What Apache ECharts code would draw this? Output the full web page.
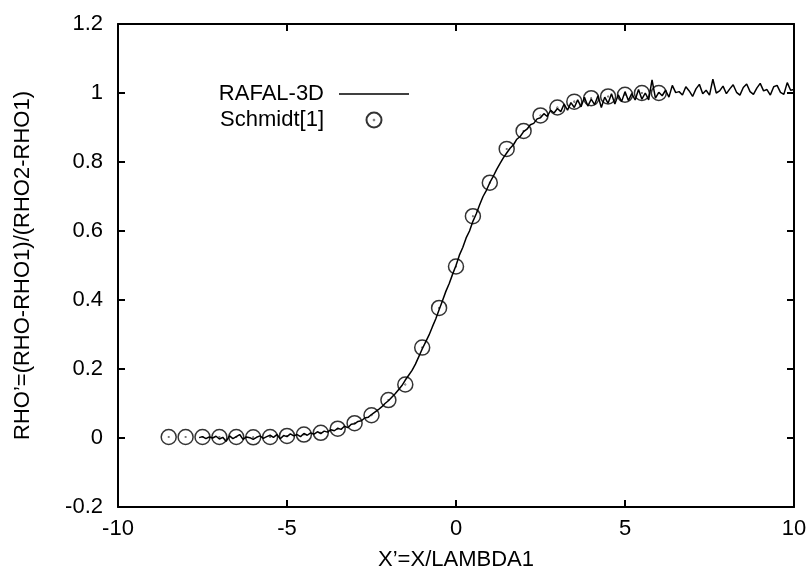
<!DOCTYPE html>
<html>
<head>
<meta charset="utf-8">
<script src="https://cdn.jsdelivr.net/npm/echarts@6/dist/echarts.min.js"></script>
<style>html,body{margin:0;padding:0;background:#fff;}#c{width:811px;height:576px;}</style>
</head>
<body>
<div id="c"></div>
<script>
// Schmidt[1] reference points
const schmidtX = [-8.5,-8,-7.5,-7,-6.5,-6,-5.5,-5,-4.5,-4,-3.5,-3,-2.5,-2,-1.5,-1,-0.5,0,0.5,1,1.5,2,2.5,3,3.5,4,4.5,5,5.5,6];
const schmidtY = [0.003,0.003,0.003,0.003,0.003,0.002,0.003,0.006,0.010,0.015,0.027,0.043,0.066,0.110,0.155,0.262,0.377,0.497,0.643,0.740,0.838,0.890,0.935,0.958,0.975,0.985,0.990,0.995,1.000,1.000];

// RAFAL-3D profile
const rafalX = [-7.6,-7.5,-7.4,-7.3,-7.2,-7.1,-7.0,-6.9,-6.8,-6.7,-6.6,-6.5,-6.4,-6.3,-6.2,-6.1,-6.0,-5.9,-5.8,-5.7,-5.6,-5.5,-5.4,-5.3,-5.2,-5.1,-5.0,
-4.9,-4.8,-4.7,-4.6,-4.5,-4.4,-4.3,-4.2,-4.1,-4.0,-3.9,-3.8,-3.7,-3.6,-3.5,-3.4,-3.3,-3.2,-3.1,-3.0,
-2.9,-2.8,-2.7,-2.6,-2.5,-2.4,-2.3,-2.2,-2.1,-2.0,-1.9,-1.8,-1.7,-1.6,-1.5,-1.4,-1.3,-1.2,-1.1,-1.0,
-0.9,-0.8,-0.7,-0.6,-0.5,-0.4,-0.3,-0.2,-0.1,0.0,0.1,0.2,0.3,0.4,0.5,0.6,0.7,0.8,0.9,1.0,
1.1,1.2,1.3,1.4,1.5,1.6,1.7,1.8,1.9,2.0,2.1,2.2,2.3,2.4,2.5,2.6,2.7,2.8,2.9,3.0,
3.1,3.2,3.3,3.4,3.5,3.6,3.7,3.8,3.9,4.0,4.1,4.2,4.3,4.4,4.5,4.6,4.7,4.8,4.9,5.0,
5.1,5.2,5.3,5.4,5.5,5.6,5.7,5.8,5.9,6.0,6.1,6.2,6.3,6.4,6.5,6.6,6.7,6.8,6.9,7.0,
7.1,7.2,7.3,7.4,7.5,7.6,7.7,7.8,7.9,8.0,8.1,8.2,8.3,8.4,8.5,8.6,8.7,8.8,8.9,9.0,
9.1,9.2,9.3,9.4,9.5,9.6,9.7,9.8,9.9,10.0];
const rafalY = [0.001,0.004,-0.002,0.003,0.000,0.005,-0.003,0.002,-0.010,0.006,-0.002,0.004,0.010,-0.004,0.003,0.001,-0.004,0.002,0.006,-0.001,0.004,0.008,0.002,0.010,-0.002,0.007,0.004,
0.012,0.006,0.010,0.004,0.013,0.008,0.015,0.011,0.018,0.013,0.020,0.017,0.024,0.021,0.028,0.025,0.034,0.030,0.040,0.041,
0.048,0.050,0.058,0.060,0.068,0.075,0.082,0.090,0.100,0.108,0.118,0.128,0.140,0.152,0.168,0.182,0.196,0.214,0.236,0.258,
0.278,0.298,0.322,0.345,0.372,0.398,0.425,0.448,0.475,0.500,0.530,0.552,0.580,0.600,0.628,0.650,0.676,0.700,0.718,0.740,
0.758,0.778,0.795,0.812,0.826,0.840,0.850,0.866,0.874,0.888,0.895,0.908,0.912,0.925,0.928,0.940,0.932,0.950,0.942,0.955,
0.946,0.968,0.950,0.972,0.958,0.980,0.960,0.988,0.962,0.982,0.966,0.992,0.958,0.988,0.970,0.998,0.968,0.995,0.975,1.004,
0.978,0.998,0.980,1.010,0.982,1.000,0.980,1.038,0.985,1.002,0.992,1.008,0.988,1.022,1.001,1.004,0.994,1.018,1.006,0.990,
1.012,1.025,0.998,1.008,0.994,1.040,1.000,1.006,1.020,0.998,1.012,1.024,1.002,0.994,1.016,1.026,1.004,0.996,1.014,1.028,
1.006,1.010,0.994,1.018,1.022,1.002,0.996,1.030,1.008,1.010];

const xTicks = {min: -10, max: 10, interval: 5};
const yTicks = {min: -0.2, max: 1.2, interval: 0.2};

const FONT = 'Liberation Sans, Arial, sans-serif';
const FS = 22;
const circleDot = 'path://M0,-10A10,10,0,1,1,0,10A10,10,0,1,1,0,-10ZM0,-0.35A0.35,0.35,0,1,1,0,0.35A0.35,0.35,0,1,1,0,-0.35Z';
const lineIcon = 'path://M0,0L100,0L100,2L0,2Z';

const chart = echarts.init(document.getElementById('c'), null, {renderer: 'canvas'});
const axisCommon = {
  axisLine: {show: true, onZero: false, lineStyle: {color: '#000', width: 2}},
  axisTick: {show: true, inside: true, length: 7, lineStyle: {color: '#000', width: 2}},
  splitLine: {show: false}
};
chart.setOption({
  animation: false,
  backgroundColor: '#fff',
  textStyle: {fontFamily: FONT},
  grid: {left: 118, top: 24, width: 676, height: 484, containLabel: false},
  legend: {
    orient: 'vertical', align: 'right', right: 397, top: 76,
    itemWidth: 70, itemHeight: 15, itemGap: 0, symbolKeepAspect: true,
    textStyle: {fontFamily: FONT, fontSize: FS, lineHeight: 26, color: '#000', padding: [0, 10, 0, 0]},
    data: [{name: 'RAFAL-3D', icon: lineIcon}, {name: 'Schmidt[1]'}]
  },
  xAxis: [
    Object.assign({type: 'value', position: 'bottom', min: xTicks.min, max: xTicks.max, interval: xTicks.interval,
      name: 'X’=X/LAMBDA1', nameLocation: 'middle', nameGap: 42,
      nameTextStyle: {fontFamily: FONT, fontSize: FS, color: '#000'},
      axisLabel: {fontFamily: FONT, fontSize: FS, color: '#000', margin: 11}}, axisCommon),
    Object.assign({type: 'value', position: 'top', min: xTicks.min, max: xTicks.max, interval: xTicks.interval,
      axisLabel: {show: false}}, axisCommon)
  ],
  yAxis: [
    Object.assign({type: 'value', position: 'left', min: yTicks.min, max: yTicks.max, interval: yTicks.interval,
      name: 'RHO’=(RHO-RHO1)/(RHO2-RHO1)', nameLocation: 'middle', nameGap: 84, nameRotate: 90,
      nameTextStyle: {fontFamily: FONT, fontSize: FS, color: '#000'},
      axisLabel: {fontFamily: FONT, fontSize: FS, color: '#000', margin: 15}}, axisCommon),
    Object.assign({type: 'value', position: 'right', min: yTicks.min, max: yTicks.max, interval: yTicks.interval,
      axisLabel: {show: false}}, axisCommon)
  ],
  series: [
    {
      name: 'RAFAL-3D', type: 'line', symbol: 'none', xAxisIndex: 0, yAxisIndex: 0,
      lineStyle: {color: '#000', width: 1.5}, itemStyle: {color: '#000'},
      data: rafalX.map((x, i) => [x, rafalY[i]])
    },
    {
      name: 'Schmidt[1]', type: 'scatter', symbol: circleDot, symbolSize: 15, symbolKeepAspect: true,
      xAxisIndex: 0, yAxisIndex: 0,
      itemStyle: {color: 'rgba(255,255,255,0)', borderColor: '#000', borderWidth: 1.5},
      data: schmidtX.map((x, i) => [x, schmidtY[i]])
    }
  ]
});
</script>
</body>
</html>
